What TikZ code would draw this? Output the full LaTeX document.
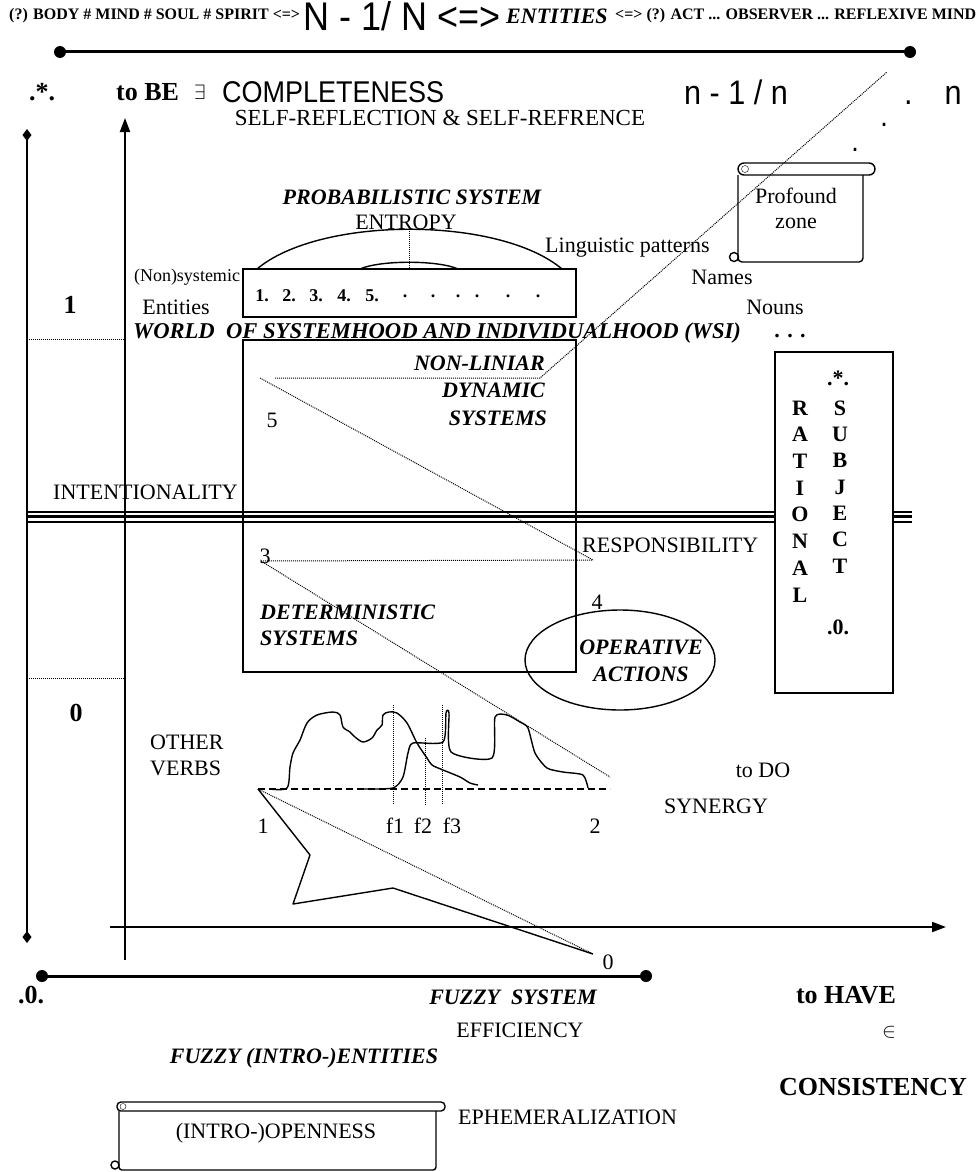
\documentclass[tikz,border=0pt]{standalone}
\usepackage{fontspec}
\setmainfont{Liberation Serif}
\newfontfamily\narrowsans[FakeStretch=0.9]{Liberation Sans}
\usetikzlibrary{shapes,arrows.meta,positioning,calc}

\tikzset{
  txt/.style={inner sep=0pt, font=\fontsize{22}{24}\selectfont},
  bitxt/.style={inner sep=0pt, font=\fontsize{22}{24}\selectfont\bfseries\itshape},
  bftxt/.style={inner sep=0pt, font=\fontsize{22}{24}\selectfont\bfseries},
  bigbf/.style={inner sep=0pt, font=\fontsize{26}{28}\selectfont\bfseries},
  toptxt/.style={inner sep=0pt, font=\fontsize{16}{18}\selectfont\bfseries},
  sanstxt/.style={inner sep=0pt, font=\fontsize{#1}{#1}\selectfont\narrowsans},
  axis/.style={line width=2pt},
  dotline/.style={densely dotted, line width=1pt},
  wave/.style={line width=1.4pt, line join=round},
  frame/.style={line width=1.4pt},
}

\begin{document}
\begin{tikzpicture}[x=1pt,y=-1pt]
\useasboundingbox (0,0) rectangle (978,1172);

% top row
\node[toptxt, anchor=west] (bodyMind) at (9,16) {(?) BODY \# MIND \# SOUL \# SPIRIT <=>};
\node[sanstxt=40, anchor=west] (nFrac) at (303,16) {N - 1/ N <=>};
\node[bitxt, anchor=west] (entities) at (506,16) {ENTITIES};
\node[toptxt, anchor=west] (actMind) at (615,16) {<=> (?) ACT ... OBSERVER ... REFLEXIVE MIND};
\draw[line width=3pt] (60,52) -- (910,52);
\fill (60,52) circle (6) (910,52) circle (6);

% second row
\node[bigbf] (dotStar) at (42,92) {.*.};
\node[bigbf, anchor=west] (toBe) at (116,92) {to BE};
\node[txt] (exists) at (200,92) {$\exists$};
\node[sanstxt=30, anchor=west] (complete) at (222,92) {COMPLETENESS};
\node[sanstxt=34, anchor=west] (nFracSmall) at (684,92) {n - 1 / n};
\node[sanstxt=34, anchor=base west] (dotN) at (904,104) {.\hspace{32pt}n};
\node[sanstxt=30, anchor=base] (dotA) at (884,126) {.};
\node[sanstxt=30, anchor=base] (dotB) at (855,151) {.};
\node[txt, font=\fontsize{23}{25}\selectfont] (selfRef) at (440,118) {SELF-REFLECTION \& SELF-REFRENCE};

% axes
\draw[axis, {Diamond[length=12pt,width=9pt]}-{Diamond[length=12pt,width=9pt]}] (27,129) -- (27,943);
\draw[axis, -{Triangle[length=14pt,width=10pt]}] (125,960) -- (125,118);
\draw[axis, -{Triangle[length=14pt,width=10pt]}] (110,927) -- (946,927);
\draw[line width=3pt] (42,976) -- (646,976);
\fill (42,976) circle (6) (646,976) circle (6);
\draw[dotline] (27,339) -- (125,339);
\draw[dotline] (27,678) -- (125,678);
\node[bigbf] (levelOne) at (70,305) {1};
\node[bigbf] (levelZero) at (76,713) {0};

% intentionality line
\foreach \yy/\lw in {512/1.2,516.5/3,522/1.2} {
  \draw[line width=\lw pt] (27,\yy) -- (775,\yy);
  \draw[line width=\lw pt] (893,\yy) -- (912,\yy);
}
\node[txt, anchor=west] (intent) at (53,492) {INTENTIONALITY};

% probabilistic system
\node[bitxt] (probSys) at (412,197) {PROBABILISTIC SYSTEM};
\node[txt] (entropy) at (406,222) {ENTROPY};
\draw[frame] (257,269) .. controls (320,216) and (499,216) .. (562,269);
\draw[frame] (360,269) .. controls (380,260) and (438,260) .. (458,269);
\draw[dotline] (409,229) -- (409,269);
\draw[frame] (243,269) rectangle (576,317);
\foreach \x/\t [count=\k] in {262/1.,289/2.,316/3.,344/4.,372/5.,405/.,433/.,458/.,477/.,508/.,538/.}
  \node[bftxt, font=\fontsize{18}{20}\selectfont\bfseries] (seq\k) at (\x,296) {\t};
\node[txt, font=\fontsize{18}{20}\selectfont] (nonSys) at (187,277) {(Non)systemic};
\node[txt] (entitiesL) at (176,307) {Entities};
\node[bitxt, font=\fontsize{22.6}{24}\selectfont\bfseries\itshape, anchor=west] (wsi) at (133,333) {WORLD\ \ OF SYSTEMHOOD AND INDIVIDUALHOOD (WSI)};

% profound zone scroll
\draw[frame, rounded corners=6] (738,163) rectangle (875,175);
\draw (745,169) circle (3.5);
\draw[frame, rounded corners=4] (738,175) -- (738,262) -- (863,262) -- (863,175);
\draw[frame] (734,257) circle (4.5);
\node[txt] (profound) at (796,196) {Profound};
\node[txt] (zone) at (796,223) {zone};
\node[txt, anchor=west] (lingPat) at (545,248) {Linguistic patterns};
\node[txt] (names) at (722,277) {Names};
\node[txt] (nouns) at (775,307) {Nouns};
\node[bftxt] (ellipsis) at (790,336) {. . .};

% world of systemhood box
\draw[frame] (243,340) rectangle (576,672);
\node[bitxt, anchor=east] (nonLin) at (545,363) {NON-LINIAR};
\node[bitxt, anchor=east] (dynamic) at (545,390) {DYNAMIC};
\node[bitxt, anchor=east] (dynSys) at (547,418) {SYSTEMS};
\node[txt] (five) at (272,420) {5};
\node[txt] (three) at (265,556) {3};
\node[txt] (four) at (597,602) {4};
\node[txt, anchor=west] (respons) at (582,545) {RESPONSIBILITY};
\node[bitxt, anchor=west] (determ) at (260,612) {DETERMINISTIC};
\node[bitxt, anchor=west] (detSys) at (260,638) {SYSTEMS};
\node[draw, ellipse, frame, minimum width=190, minimum height=100] (operative) at (620,660) {};
\node[bitxt] (operA) at (641,647) {OPERATIVE};
\node[bitxt] (operB) at (641,674) {ACTIONS};

% dotted links
\coordinate (fiveStart) at (260,378);
\coordinate (nlStart) at (275,378);
\coordinate (nlEnd) at (540,378);
\coordinate (topEnd) at (887,72);
\coordinate (respEnd) at (593,560);
\coordinate (threeStart) at (261,561);
\coordinate (twoEnd) at (610,777);
\coordinate (oneP) at (258,789);
\coordinate (zeroP) at (593,954);
\draw[dotline] (nlStart) -- (nlEnd) -- (topEnd);
\draw[dotline] (fiveStart) -- (respEnd);
\draw[dotline] (threeStart) -- (respEnd);
\draw[dotline] (threeStart) -- (twoEnd);
\draw[dotline] (oneP) -- (zeroP);

% rational subject
\draw[frame] (775,352) rectangle (893,693);
\node[bftxt] (ratStar) at (838,378) {.*.};
\foreach \ch [count=\i] in {R,A,T,I,O,N,A,L}
  \node[bftxt] (rat\i) at (800,{408+26.7*(\i-1)}) {\ch};
\foreach \ch [count=\i] in {S,U,B,J,E,C,T}
  \node[bftxt] (subj\i) at (840,{408+26.3*(\i-1)}) {\ch};
\node[bftxt] (ratZero) at (838,627) {.0.};

% signals
\node[txt, anchor=west] (other) at (150,742) {OTHER};
\node[txt, anchor=west] (verbs) at (150,768) {VERBS};
\draw[line width=1.5pt, dash pattern=on 7pt off 4pt] (oneP) -- (610,789);
\draw[dotline] (393,705) -- (393,805);
\draw[dotline] (425,738) -- (425,805);
\draw[dotline] (442,705) -- (442,805);
\draw[wave] plot[smooth, tension=0.5] coordinates {(270,789) (287,788) (290,767) (293,753) (300,740) (307,723) (317,715) (333,712) (340,715) (343,727) (350,732) (355,737) (363,742) (372,738) (377,730) (382,725) (383,715) (389,712) (397,713) (407,723) (417,743) (427,758) (432,765) (443,770) (460,777) (470,783) (478,785)};
\draw[wave] plot[smooth, tension=0.4] coordinates {(363,789) (393,788) (403,777) (408,753) (413,743) (443,742) (446,713) (449,713) (451,752) (492,758) (495,717) (507,715) (520,722) (528,728) (535,753) (547,768) (563,772) (583,775) (588,788)};
\node[txt] (lblOne) at (263,826) {1};
\node[txt] (lblF1) at (395,826) {f1};
\node[txt] (lblF2) at (423,826) {f2};
\node[txt] (lblF3) at (452,826) {f3};
\node[txt] (lblTwo) at (595,826) {2};
\draw[wave] (oneP) -- (310,855) -- (293,904) -- (393,888) -- (zeroP);
\node[txt] (lblZero) at (608,962) {0};
\node[txt] (toDo) at (763,770) {to DO};
\node[txt] (synergy) at (716,806) {SYNERGY};

% bottom labels
\node[bigbf] (dotZero) at (31,995) {.0.};
\node[bitxt] (fuzzySys) at (513,997) {FUZZY\ \ SYSTEM};
\node[bigbf] (toHave) at (846,995) {to HAVE};
\node[txt] (effic) at (520,1030) {EFFICIENCY};
\node[txt] (elemOf) at (889,1032) {$\in$};
\node[bitxt] (fuzzyEnt) at (304,1058) {FUZZY (INTRO-)ENTITIES};
\node[bigbf] (consist) at (873,1087) {CONSISTENCY};
\node[txt, anchor=west] (ephem) at (458,1117) {EPHEMERALIZATION};

% openness scroll
\draw[frame, rounded corners=4] (117,1102) rectangle (445,1111);
\draw (123,1106.5) circle (3);
\draw[frame, rounded corners=3] (119,1111) -- (119,1170) -- (436,1170) -- (436,1111);
\draw[frame] (115,1165) circle (4);
\node[txt] (openness) at (276,1133) {(INTRO-)OPENNESS};
\end{tikzpicture}
\end{document}
